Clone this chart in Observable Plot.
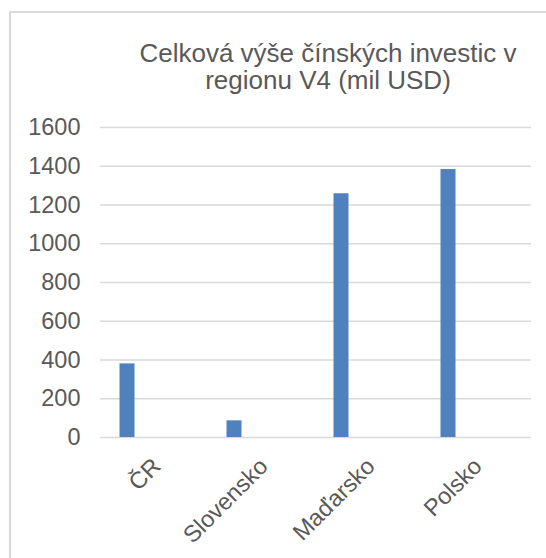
<!DOCTYPE html>
<html><head><meta charset="utf-8">
<script src="https://cdn.jsdelivr.net/npm/d3@7"></script>
<script src="https://cdn.jsdelivr.net/npm/@observablehq/plot@0.6"></script>
<style>
html,body{margin:0;padding:0;background:#fff;}
#chart{position:relative;width:546px;height:558px;overflow:hidden;font-family:"Liberation Sans",Arial,sans-serif;}
#frame{position:absolute;left:9px;top:11px;width:600px;height:600px;border-left:2px solid #d9d9d9;border-top:2px solid #d9d9d9;pointer-events:none;}
#title{box-sizing:border-box;height:100px;padding-top:40px;padding-left:110px;width:546px;text-align:center;font-size:26px;line-height:27px;color:#595959;}
#chart svg{display:block;}
</style></head>
<body>
<div id="chart"><div id="frame"></div><div id="title">Celková výše čínských investic v<br>regionu V4 (mil USD)</div></div>
<script>
const categories = ["ČR", "Slovensko", "Maďarsko", "Polsko"];
const values = [380, 86, 1258, 1383];
const yTicks = [0, 200, 400, 600, 800, 1000, 1200, 1400, 1600];

const data = categories.map((c, i) => ({country: c, value: values[i]}));

const plot = Plot.plot({
  width: 546,
  height: 458,
  marginTop: 27,
  marginBottom: 121,
  marginLeft: 100,
  marginRight: 15,
  style: {fontFamily: '"Liberation Sans", Arial, sans-serif', fontSize: "23.5px", color: "#595959", background: "transparent"},
  x: {domain: categories, padding: 0, label: null},
  y: {domain: [0, 1600], label: null},
  marks: [
    Plot.gridY(yTicks, {stroke: "#d9d9d9", strokeOpacity: 1, strokeWidth: 1.5}),
    Plot.barY(data, {x: "country", y: "value", fill: "#4f81bd", insetLeft: 17.5, insetRight: 74.5}),
    Plot.axisY(yTicks, {tickSize: 0, tickPadding: 20, label: null, tickFormat: d => String(d), fontSize: 23.5, fill: "#595959"}),
    Plot.axisX({tickSize: 0, tickRotate: -45, tickPadding: 25, dx: 1, label: null, fontSize: 23.5, fill: "#595959"})
  ]
});
document.getElementById("chart").appendChild(plot);
</script>
</body></html>
